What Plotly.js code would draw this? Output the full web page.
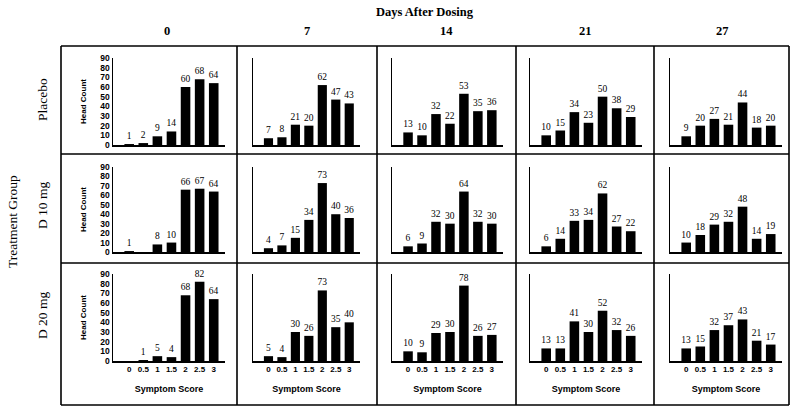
<!DOCTYPE html>
<html><head><meta charset="utf-8">
<script src="https://cdn.plot.ly/plotly-3.0.1.min.js"></script>
<style>html,body{margin:0;padding:0;background:#fff}</style>
</head><body><div id="chart" style="width:791px;height:408px"></div>
<script>
const scores = ['0','0.5','1','1.5','2','2.5','3'];
const days = ['0','7','14','21','27'];
const groups = ['Placebo','D 10 mg','D 20 mg'];
const placebo = [[1,2,9,14,60,68,64],[7,8,21,20,62,47,43],[13,10,32,22,53,35,36],[10,15,34,23,50,38,29],[9,20,27,21,44,18,20]];
const d10 = [[1,0,8,10,66,67,64],[4,7,15,34,73,40,36],[6,9,32,30,64,32,30],[6,14,33,34,62,27,22],[10,18,29,32,48,14,19]];
const d20 = [[0,1,5,4,68,82,64],[5,4,30,26,73,35,40],[10,9,29,30,78,26,27],[13,13,41,30,52,32,26],[13,15,32,37,43,21,17]];
const seriesByGroup = [placebo, d10, d20];

const W = 791, H = 408;
const px = x => x / W, py = y => 1 - y / H;
const colAxis = [[113,225],[253,360],[392,503],[530,642],[670,782]];
const rowAxis = [[58,145],[167,252],[274,361]];
const colLabelX = [167,307,446,585,722];
const rowLabelY = [100,205,315];

const serif = 'Liberation Serif, Times New Roman, serif';
const sans = 'Liberation Sans, Arial, sans-serif';

const data = [];
const layout = {
  width: W, height: H,
  margin: {l:0, r:0, t:0, b:0},
  paper_bgcolor: '#fff', plot_bgcolor: 'rgba(0,0,0,0)',
  showlegend: false,
  bargap: 0.32,
  annotations: [], shapes: []
};

for (let r = 0; r < 3; r++) {
  for (let c = 0; c < 5; c++) {
    const k = r * 5 + c + 1;
    const xid = k === 1 ? 'x' : 'x' + k;
    const yid = k === 1 ? 'y' : 'y' + k;
    const vals = seriesByGroup[r][c];
    data.push({
      type: 'bar', x: scores, y: vals, xaxis: xid, yaxis: yid,
      marker: {color: '#000', line: {width: 0}},
      text: vals.map(v => v > 0 ? String(v) : ''),
      textposition: 'outside', constraintext: 'none', cliponaxis: false,
      textfont: {family: serif, size: 9.5, color: '#000000'},
      outsidetextfont: {family: serif, size: 9.5, color: '#000000'},
      hoverinfo: 'skip'
    });
    const xa = {
      domain: [px(colAxis[c][0]), px(colAxis[c][1])],
      anchor: yid, type: 'category', range: [-1.15, 6.8],
      showline: true, linecolor: '#000', linewidth: 1.5,
      showgrid: false, zeroline: false, ticks: '',
      showticklabels: r === 2,
      tickfont: {family: sans, size: 8, color: '#000', weight: 'bold'},
      fixedrange: true
    };
    if (r === 2) {
      xa.title = {text: 'Symptom Score', font: {family: sans, size: 9, color: '#000', weight: 'bold'}, standoff: 12};
    }
    const ya = {
      domain: [py(rowAxis[r][1]), py(rowAxis[r][0])],
      anchor: xid, range: [0, 90],
      showline: true, linecolor: '#000', linewidth: 1.5,
      showgrid: false, zeroline: false, ticks: '',
      tickvals: [0,10,20,30,40,50,60,70,80,90],
      showticklabels: c === 0,
      tickfont: {family: sans, size: 8.5, color: '#000', weight: 'bold'},
      fixedrange: true
    };
    if (c === 0) {
      ya.title = {text: 'Head Count', font: {family: sans, size: 8, color: '#000', weight: 'bold'}, standoff: 12};
    }
    layout['xaxis' + (k === 1 ? '' : k)] = xa;
    layout['yaxis' + (k === 1 ? '' : k)] = ya;
  }
}

// Titles
layout.annotations.push({text: 'Days After Dosing', x: px(425), y: py(12), xref: 'paper', yref: 'paper',
  showarrow: false, font: {family: serif, size: 12.5, color: '#000', weight: 'bold'}, xanchor: 'center', yanchor: 'middle'});
days.forEach((d, i) => layout.annotations.push({text: d, x: px(colLabelX[i]), y: py(31), xref: 'paper', yref: 'paper',
  showarrow: false, font: {family: serif, size: 12.5, color: '#000', weight: 'bold'}, xanchor: 'center', yanchor: 'middle'}));
groups.forEach((g, i) => layout.annotations.push({text: g, x: px(42), y: py(rowLabelY[i]), xref: 'paper', yref: 'paper',
  showarrow: false, textangle: -90, font: {family: serif, size: 13.5, color: '#000'}, xanchor: 'center', yanchor: 'middle'}));
layout.annotations.push({text: 'Treatment Group', x: px(13), y: py(222), xref: 'paper', yref: 'paper',
  showarrow: false, textangle: -90, font: {family: serif, size: 13.5, color: '#000'}, xanchor: 'center', yanchor: 'middle'});

// Frame
const frameL = 61, frameR = 789, frameT = 46, frameB = 405;
const vlines = [frameL, 237, 377, 516, 654, frameR];
const hlines = [frameT, 154, 263, frameB];
vlines.forEach(x => layout.shapes.push({type: 'line', xref: 'paper', yref: 'paper',
  x0: px(x), x1: px(x), y0: py(frameT), y1: py(frameB), line: {color: '#000', width: 1.6}}));
hlines.forEach(y => layout.shapes.push({type: 'line', xref: 'paper', yref: 'paper',
  x0: px(frameL), x1: px(frameR), y0: py(y), y1: py(y), line: {color: '#000', width: 1.6}}));

Plotly.newPlot('chart', data, layout, {displayModeBar: false, staticPlot: true});
</script></body></html>
